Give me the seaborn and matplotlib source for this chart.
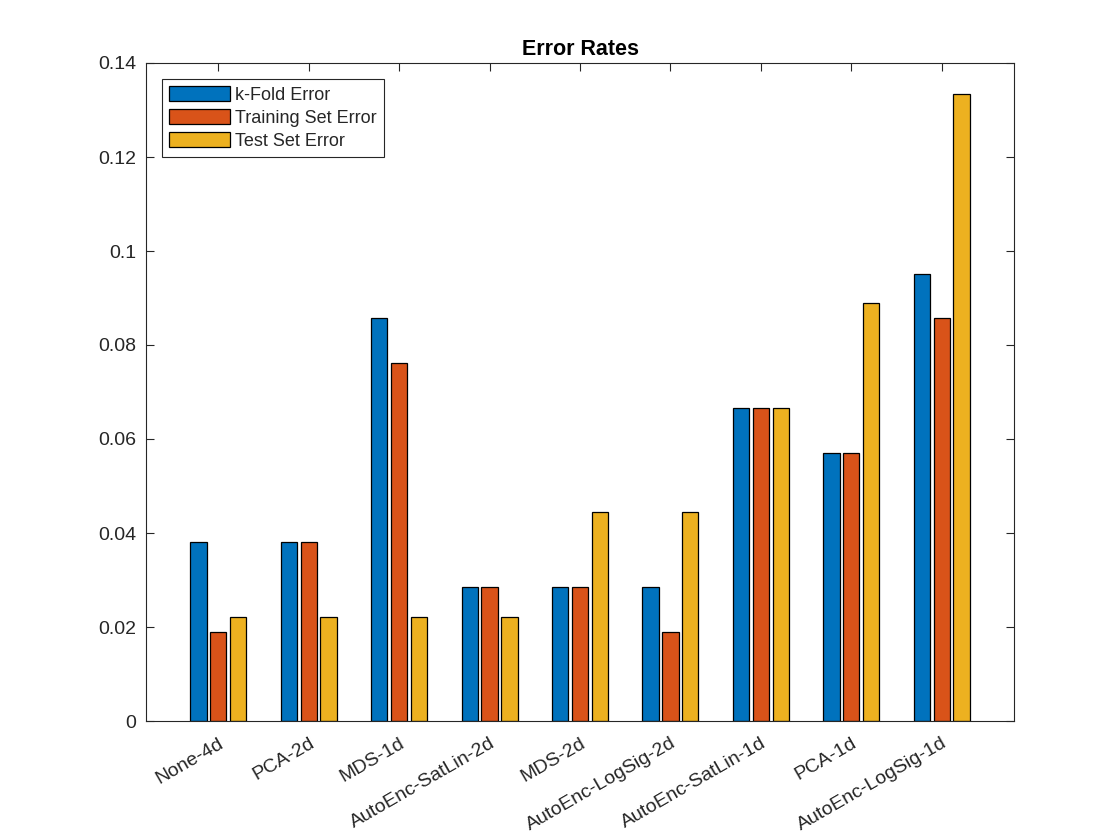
import matplotlib
matplotlib.use('Agg')
import matplotlib.pyplot as plt
import pandas as pd
import seaborn as sns

methods = ['None-4d', 'PCA-2d', 'MDS-1d', 'AutoEnc-SatLin-2d', 'MDS-2d',
           'AutoEnc-LogSig-2d', 'AutoEnc-SatLin-1d', 'PCA-1d', 'AutoEnc-LogSig-1d']
kfold_err = [0.0381, 0.0381, 0.0857, 0.0286, 0.0286, 0.0286, 0.0667, 0.0571, 0.0952]
train_err = [0.0190, 0.0381, 0.0762, 0.0286, 0.0286, 0.0190, 0.0667, 0.0571, 0.0857]
test_err = [0.0222, 0.0222, 0.0222, 0.0222, 0.0444, 0.0444, 0.0667, 0.0889, 0.1333]
series = ['k-Fold Error', 'Training Set Error', 'Test Set Error']
colors = ['#0072BD', '#D95319', '#EDB120']

rows = []
for name, vals in zip(series, [kfold_err, train_err, test_err]):
    for m, v in zip(methods, vals):
        rows.append({'method': m, 'series': name, 'error': v})
df = pd.DataFrame(rows)

sns.set_style('white')
plt.rcParams['font.family'] = ['Liberation Sans', 'DejaVu Sans']
ink = '#262626'

fig = plt.figure(figsize=(11.2, 8.4), dpi=100)
ax = fig.add_axes([146 / 1120, 1 - 721 / 840, 868 / 1120, 658 / 840])

sns.barplot(data=df, x='method', y='error', hue='series', hue_order=series,
            palette=colors, width=0.66, gap=0.18, edgecolor='black',
            linewidth=0.9, saturation=1, ax=ax)

ax.set_xlim(-0.8, 8.8)
ax.set_ylim(0, 0.14)
ax.set_yticks([0, 0.02, 0.04, 0.06, 0.08, 0.1, 0.12, 0.14])
ax.set_yticklabels(['0', '0.02', '0.04', '0.06', '0.08', '0.1', '0.12', '0.14'])
ax.set_xlabel('')
ax.set_ylabel('')
ax.tick_params(direction='in', length=6, width=0.8, colors=ink,
               labelsize=14, top=True, right=True, bottom=True, left=True)
ax.tick_params(axis='y', pad=7)
ax.tick_params(axis='x', pad=10)
plt.setp(ax.get_xticklabels(), rotation=30, ha='right', rotation_mode='anchor')
for s in ax.spines.values():
    s.set_visible(True)
    s.set_color(ink)
    s.set_linewidth(0.8)

ax.set_title('Error Rates', fontsize=15.5, fontweight='bold', color='black', pad=6)

leg = ax.legend(loc='upper left', bbox_to_anchor=(0.018, 0.976), fontsize=13,
                frameon=True, fancybox=False, edgecolor=ink, framealpha=1,
                handlelength=3.4, handleheight=0.9, handletextpad=0.25,
                labelspacing=0.3, borderpad=0.4, borderaxespad=0)
leg.get_frame().set_linewidth(0.8)

fig.savefig('out.png', dpi=100)
